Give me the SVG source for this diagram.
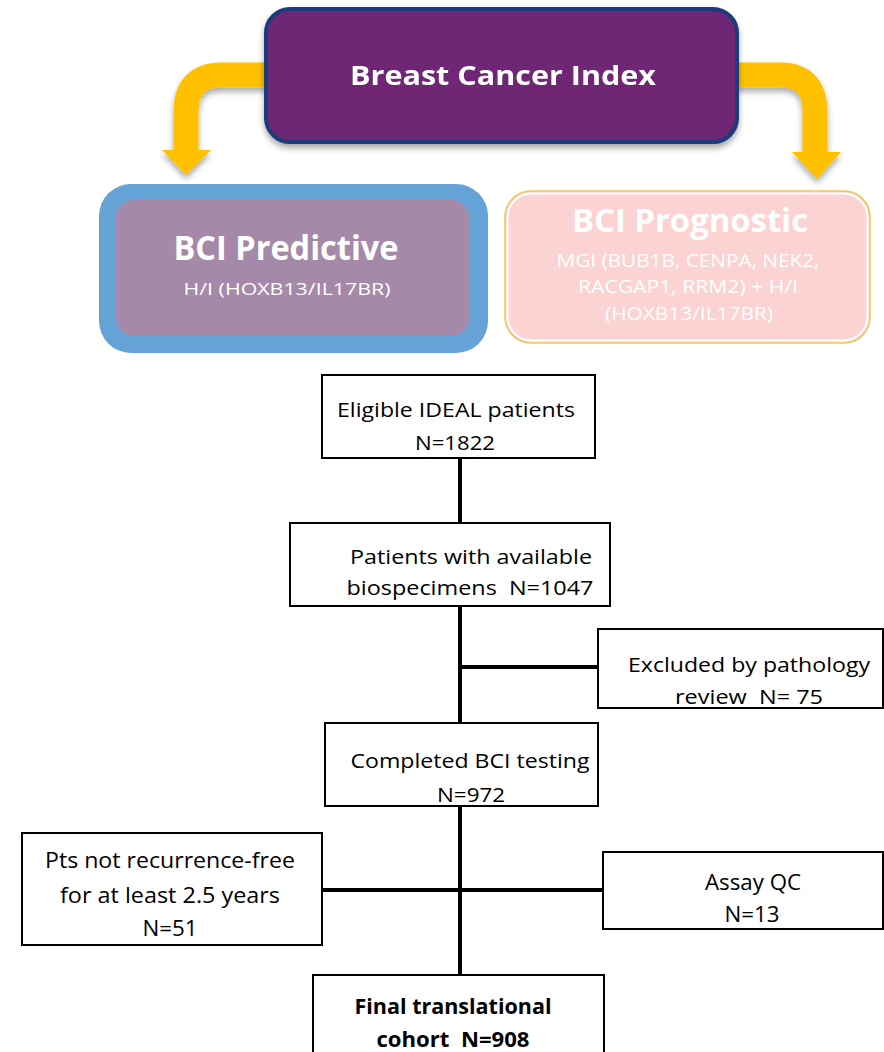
<svg xmlns="http://www.w3.org/2000/svg" width="884" height="1052" viewBox="0 0 884 1052">
<style>
.t{font-family:"Open Sans",Lato,"Liberation Sans",sans-serif;}
.w{fill:#ffffff;}
.k{fill:#000000;}
.box{fill:#ffffff;stroke:#000000;stroke-width:2;}
.ln{stroke:#000000;stroke-width:4;fill:none;}
.arr{stroke:#FFC000;stroke-width:25;fill:none;}
.head{fill:#FFC000;}
</style>
<defs>
<filter id="sh" x="-20%" y="-20%" width="140%" height="150%">
<feGaussianBlur in="SourceAlpha" stdDeviation="3"/>
<feOffset dx="0" dy="4" result="b"/>
<feComponentTransfer><feFuncA type="linear" slope="0.35"/></feComponentTransfer>
<feMerge><feMergeNode/><feMergeNode in="SourceGraphic"/></feMerge>
</filter>
</defs>

<g id="arrows-top" filter="url(#sh)">
<path class="arr" d="M 268 75 H 222 Q 186 75 186 112 V 152"/>
<polygon class="head" points="162,150 211,150 186,175"/>
<path class="arr" d="M 735 75 H 780 Q 815 75 815 112 V 154"/>
<polygon class="head" points="792,152 841,152 817,179"/>
</g>

<g id="bci" filter="url(#sh)">
<rect x="266" y="9" width="471" height="133" rx="24" fill="#6E2874" stroke="#1F3B7A" stroke-width="4"/>
<text class="t w" x="503" y="85" font-size="27" font-weight="bold" text-anchor="middle" textLength="306" lengthAdjust="spacingAndGlyphs">Breast Cancer Index</text>
</g>

<g id="predictive">
<rect x="99" y="184" width="389" height="169" rx="32" fill="#65A3D7"/>
<rect x="116" y="200" width="353" height="136" rx="18" fill="#A589A8"/>
<text class="t w" x="286" y="260" font-size="34" font-weight="bold" text-anchor="middle" textLength="225" lengthAdjust="spacingAndGlyphs">BCI Predictive</text>
<text class="t w" x="287" y="295" font-size="16.5" text-anchor="middle" textLength="207" lengthAdjust="spacingAndGlyphs">H/I (HOXB13/IL17BR)</text>
</g>

<g id="prognostic">
<rect x="505" y="191" width="365" height="152" rx="26" fill="#FAD3D2" stroke="#F3C653" stroke-width="1.5"/>
<rect x="507.5" y="193.5" width="360" height="147" rx="24" fill="none" stroke="#ffffff" stroke-width="2"/>
<text class="t w" x="690" y="232" font-size="32" font-weight="bold" text-anchor="middle" textLength="236" lengthAdjust="spacingAndGlyphs">BCI Prognostic</text>
<text class="t w" x="688" y="267" font-size="19" text-anchor="middle" textLength="263" lengthAdjust="spacingAndGlyphs">MGI (BUB1B, CENPA, NEK2,</text>
<text class="t w" x="688" y="293" font-size="19" text-anchor="middle" textLength="220" lengthAdjust="spacingAndGlyphs">RACGAP1, RRM2) + H/I</text>
<text class="t w" x="689" y="320" font-size="19" text-anchor="middle" textLength="168" lengthAdjust="spacingAndGlyphs">(HOXB13/IL17BR)</text>
</g>

<g id="connectors">
<line class="ln" x1="460" y1="458" x2="460" y2="523"/>
<line class="ln" x1="460" y1="606" x2="460" y2="723"/>
<line class="ln" x1="460" y1="667" x2="598" y2="667"/>
<line class="ln" x1="460" y1="806" x2="460" y2="975"/>
<line class="ln" x1="322" y1="890" x2="602" y2="890" stroke-width="4.5"/>
</g>

<g id="eligible">
<rect class="box" x="322" y="375" width="273" height="83"/>
<text class="t k" x="456" y="417" font-size="19.5" text-anchor="middle" textLength="238" lengthAdjust="spacingAndGlyphs">Eligible IDEAL patients</text>
<text class="t k" x="455" y="450" font-size="19.5" text-anchor="middle" textLength="80" lengthAdjust="spacingAndGlyphs">N=1822</text>
</g>

<g id="biospecimens">
<rect class="box" x="290" y="523" width="320" height="83"/>
<text class="t k" x="471" y="564" font-size="19.5" text-anchor="middle" textLength="242" lengthAdjust="spacingAndGlyphs">Patients with available</text>
<text class="t k" x="470" y="595" font-size="19.5" text-anchor="middle" xml:space="preserve" textLength="247" lengthAdjust="spacingAndGlyphs">biospecimens  N=1047</text>
</g>

<g id="excluded">
<rect class="box" x="598" y="629" width="285" height="79"/>
<text class="t k" x="749" y="672" font-size="19.5" text-anchor="middle" textLength="242" lengthAdjust="spacingAndGlyphs">Excluded by pathology</text>
<text class="t k" x="749" y="704" font-size="19.5" text-anchor="middle" xml:space="preserve" textLength="148" lengthAdjust="spacingAndGlyphs">review  N= 75</text>
</g>

<g id="completed">
<rect class="box" x="325" y="723" width="273" height="83"/>
<text class="t k" x="470" y="768" font-size="19.5" text-anchor="middle" textLength="239" lengthAdjust="spacingAndGlyphs">Completed BCI testing</text>
<text class="t k" x="471" y="802" font-size="19.5" text-anchor="middle" textLength="68" lengthAdjust="spacingAndGlyphs">N=972</text>
</g>

<g id="recurrence">
<rect class="box" x="22" y="833" width="300" height="112"/>
<text class="t k" x="170" y="868" font-size="21" text-anchor="middle" textLength="250" lengthAdjust="spacingAndGlyphs">Pts not recurrence-free</text>
<text class="t k" x="170" y="903" font-size="21" text-anchor="middle" textLength="220" lengthAdjust="spacingAndGlyphs">for at least 2.5 years</text>
<text class="t k" x="170" y="936" font-size="21" text-anchor="middle" textLength="55" lengthAdjust="spacingAndGlyphs">N=51</text>
</g>

<g id="assayqc">
<rect class="box" x="603" y="852" width="280" height="77"/>
<text class="t k" x="753" y="890" font-size="21" text-anchor="middle" textLength="96" lengthAdjust="spacingAndGlyphs">Assay QC</text>
<text class="t k" x="752" y="922" font-size="21" text-anchor="middle" textLength="55" lengthAdjust="spacingAndGlyphs">N=13</text>
</g>

<g id="final">
<rect class="box" x="313" y="975" width="291" height="80"/>
<text class="t k" x="453" y="1014" font-size="22" font-weight="bold" text-anchor="middle" textLength="197" lengthAdjust="spacingAndGlyphs">Final translational</text>
<text class="t k" x="453" y="1047" font-size="22" font-weight="bold" text-anchor="middle" xml:space="preserve" textLength="153" lengthAdjust="spacingAndGlyphs">cohort  N=908</text>
</g>
</svg>
